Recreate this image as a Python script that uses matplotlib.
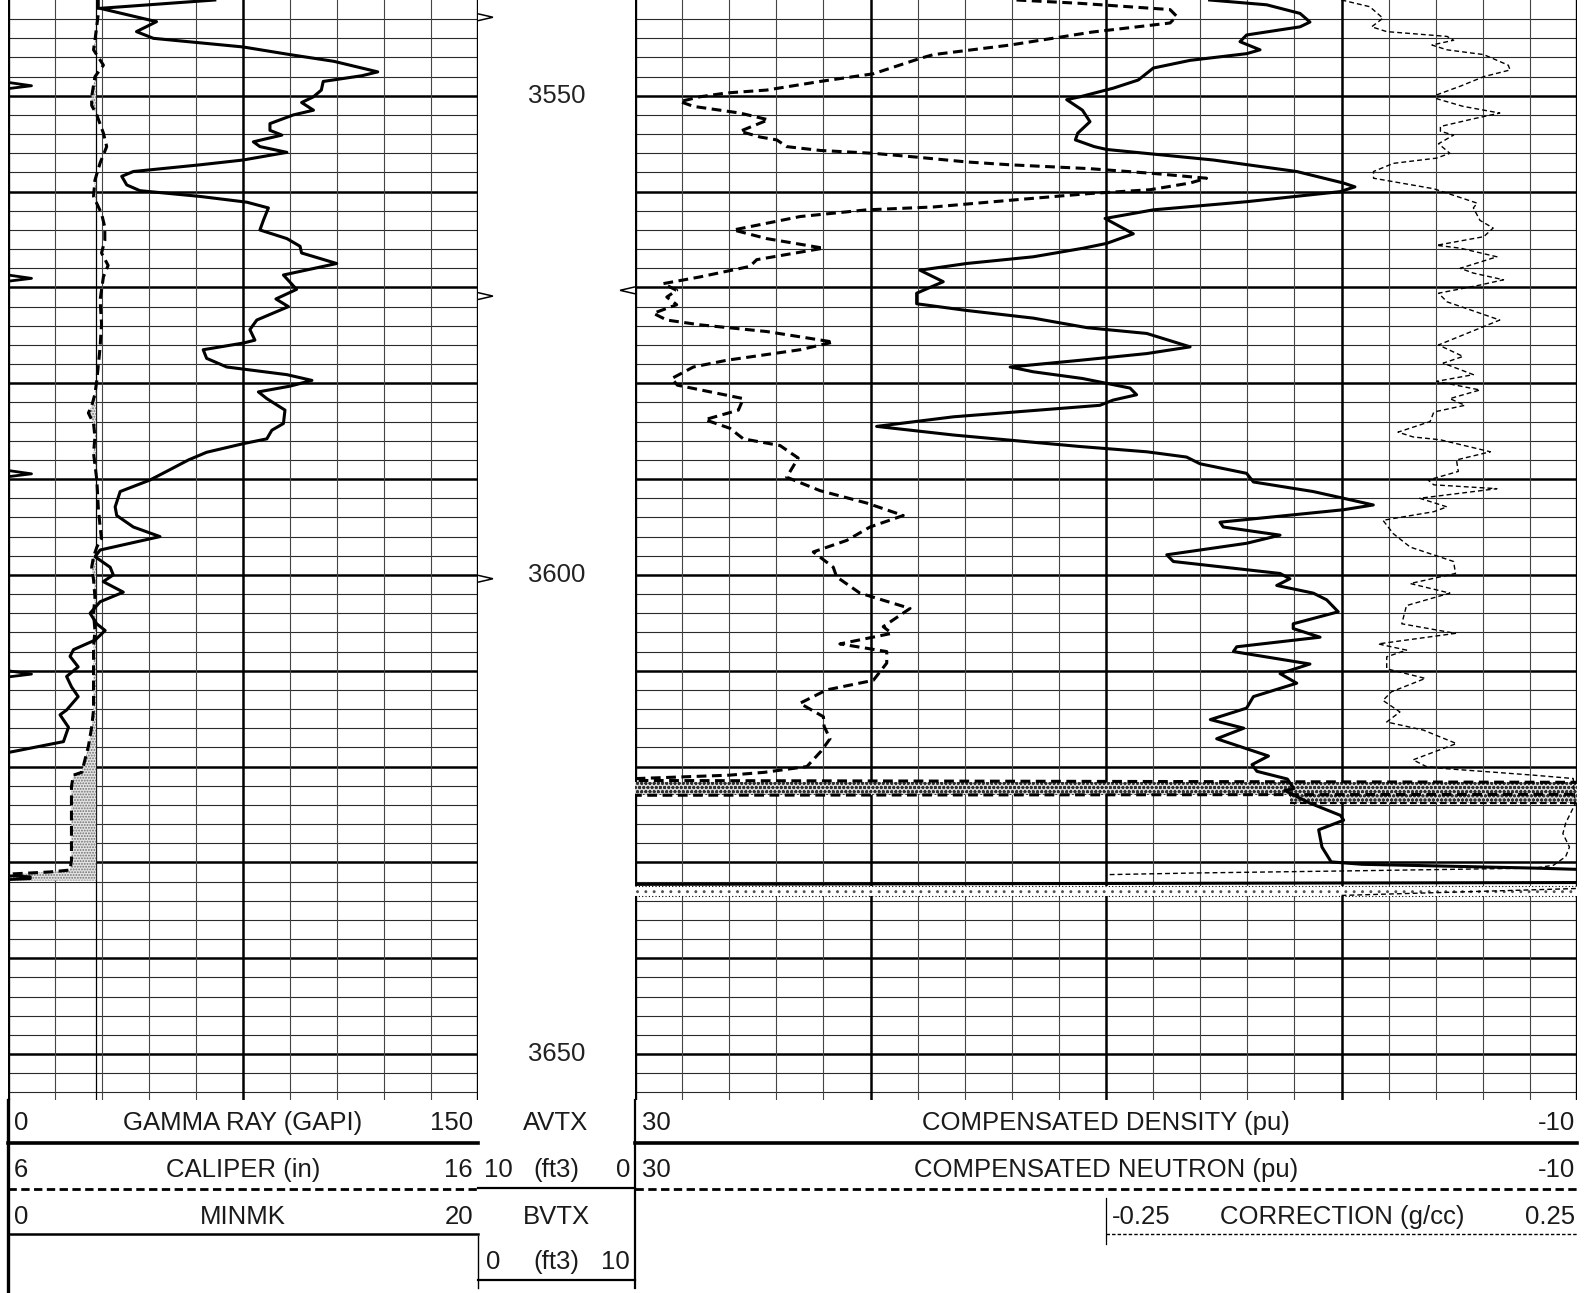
import matplotlib
matplotlib.use("Agg")
import matplotlib.pyplot as plt
import numpy as np
from matplotlib.patches import Polygon

plt.rcParams['font.family'] = ['Liberation Sans', 'DejaVu Sans']
plt.rcParams['hatch.linewidth'] = 0.9

TOP = 3540.0
BOT = 3654.8

# ---------------- data (depth in ft) ----------------
gr_depth = [3540.0, 3540.87, 3542.26, 3543.3, 3544.0, 3544.9, 3545.7, 3546.4, 3547.5, 3547.9,
            3548.5, 3549.4, 3550.1, 3550.7, 3551.5, 3552.0, 3552.9, 3553.6, 3554.1, 3554.8,
            3555.3, 3555.9, 3556.7, 3557.2, 3557.9, 3558.4, 3559.3, 3559.9, 3560.5, 3561.1,
            3561.7, 3563.0, 3564.0, 3564.9, 3565.7, 3566.4, 3567.5, 3568.7, 3570.2, 3571.2,
            3572.0, 3573.4, 3574.4, 3575.5, 3575.8, 3576.5, 3577.4, 3578.3, 3579.1, 3579.7,
            3580.3, 3580.9, 3581.6, 3582.8, 3584.2, 3584.9, 3585.8, 3586.3, 3587.2, 3588.0,
            3589.2, 3590.1, 3591.3, 3592.9, 3593.8, 3595.0, 3596.0, 3597.4, 3598.1, 3599.2,
            3600.0, 3600.7, 3601.8, 3602.8, 3604.0, 3605.1, 3605.8, 3606.8, 3607.8, 3608.5,
            3609.6, 3610.6, 3611.7, 3612.7, 3614.1, 3614.6, 3615.9, 3617.4, 3618.5, 3618.7]
gr = [66, 29.4, 47.4, 41, 46.4, 75, 90, 104, 118, 113,
      100.6, 100, 97.5, 93.7, 97.5, 91, 83.6, 83.6, 87.4, 78.3,
      80.4, 89, 75, 61.3, 40, 36.3, 37.9, 42.1, 61.3, 76.2,
      83.1, 81.5, 80.4, 89, 93.2, 93.7, 104.9, 87.9, 92.1, 85.5,
      89.5, 79.4, 77.2, 78.8, 75.1, 62.3, 63.4, 69.8, 89, 97,
      90, 79.9, 82.6, 88.4, 87.9, 84.2, 82.6, 75.1, 63.4, 57.6,
      50.6, 45.3, 35.8, 34.2, 34.7, 40, 48.5, 29.4, 27.8, 32.6,
      33.6, 30.4, 36.8, 29.4, 26.2, 28.3, 31, 27.8, 20.9, 19.8,
      22.4, 18.7, 20.3, 22.4, 18.7, 16.6, 19.3, 17.7, 0.6, -2]

cal_depth = [3540.0, 3541.5, 3544.2, 3545.2, 3546.8, 3548.0, 3550.1, 3551.0, 3552.0, 3553.9,
             3555.3, 3557.0, 3558.8, 3560.5, 3562.3, 3563.7, 3565.1, 3566.4, 3567.7, 3568.9,
             3571.3, 3573.8, 3576.2, 3579.7, 3581.1, 3582.4, 3583.1, 3584.2, 3585.6, 3587.3,
             3590.1, 3592.9, 3595.0, 3596.2, 3597.1, 3598.1, 3599.2, 3600.5, 3602.3, 3604.0,
             3605.8, 3607.5, 3611.0, 3614.1, 3615.9, 3617.9, 3620.0, 3620.6, 3620.9, 3622.1,
             3629.8, 3630.8, 3631.0, 3631.2, 3631.3, 3631.9]
caliper = [7.92, 7.92, 7.85, 7.82, 8.03, 7.85, 7.78, 7.78, 7.89, 8.03,
           8.10, 7.96, 7.85, 7.82, 7.99, 8.06, 8.06, 7.99, 8.13, 8.03,
           7.96, 7.99, 7.96, 7.89, 7.85, 7.78, 7.71, 7.82, 7.85, 7.82,
           7.89, 7.92, 7.96, 7.99, 7.89, 7.82, 7.78, 7.82, 7.85, 7.82,
           7.85, 7.82, 7.82, 7.82, 7.78, 7.71, 7.60, 7.57, 7.39, 7.35,
           7.35, 7.32, 6.89, 6.11, 6.04, 6.0]
bit_size = 7.875

minmk_depth = [3540.0, 3548.6, 3548.95, 3549.25, 3568.7, 3569.05, 3569.35, 3589.1, 3589.45, 3589.75,
               3610.0, 3610.35, 3610.65, 3631.4, 3631.5, 3631.7, 3631.8]
minmk = [0, 0, 1.0, 0, 0, 1.0, 0, 0, 1.0, 0,
         0, 1.0, 0, 0, 0.95, 0.95, 0]

neu_depth = [3540.0, 3540.35, 3541.0, 3541.7, 3542.4, 3543.35, 3544.7, 3545.7, 3546.1, 3547.7,
             3548.5, 3549.4, 3549.7, 3550.1, 3550.6, 3551.1, 3551.8, 3552.5, 3553.7, 3554.3,
             3554.6, 3555.3, 3555.7, 3556.0, 3556.4, 3556.9, 3557.2, 3557.6, 3558.1, 3558.6,
             3559.1, 3559.8, 3560.2, 3560.9, 3561.6, 3561.9, 3562.6, 3564.0, 3564.9, 3565.9,
             3567.1, 3567.8, 3568.9, 3569.6, 3570.3, 3571.0, 3571.8, 3572.7, 3573.4, 3573.9,
             3574.6, 3575.7, 3576.5, 3577.6, 3578.3, 3579.5, 3580.2, 3581.6, 3582.8, 3583.8,
             3584.7, 3585.8, 3586.5, 3587.8, 3589.8, 3591.2, 3592.5, 3593.8, 3595.0, 3596.4,
             3597.6, 3599.2, 3600.2, 3601.9, 3603.5, 3605.4, 3606.1, 3607.2, 3608.0, 3609.2,
             3611.0, 3612.0, 3613.4, 3614.8, 3615.8, 3617.1, 3618.4, 3620.0, 3620.6, 3620.9,
             3621.25, 3621.45, 3621.65, 3622.9, 3623.0]
neutron = [13.8, 11.1, 7.28, 7.0, 7.28, 10.6, 14.07, 17.33, 17.9, 19.88,
           22.14, 24.41, 26.11, 27.24, 28.09, 27.52, 25.54, 24.34, 25.54, 24.69,
           23.98, 23.56, 22.14, 19.88, 18.04, 15.92, 14.07, 10.7, 7.99, 5.73,
           6.43, 8.13, 10.7, 14.07, 17.33, 20.16, 22.99, 25.82, 24.41, 22.0,
           24.83, 25.12, 27.24, 28.8, 28.23, 28.65, 28.23, 29.22, 28.65, 27.24,
           24.41, 21.58, 22.99, 26.11, 27.52, 28.44, 28.2, 25.4, 25.61, 27.03,
           25.97, 25.4, 23.84, 23.07, 23.56, 22.15, 20.16, 18.61, 20.02, 21.01,
           22.43, 21.58, 21.44, 20.45, 18.32, 19.46, 19.1, 21.3, 19.31, 19.31,
           19.88, 21.86, 23.0, 22.0, 21.97, 21.72, 22.1, 22.7, 24.5, 26.0,
           29.9, 31.0, -10.8, -10.8, 31.0]

den_depth = [3540.0, 3540.5, 3541.4, 3542.3, 3542.8, 3543.65, 3544.35, 3545.2, 3545.6, 3546.3,
             3547.1, 3548.35, 3549.2, 3550.1, 3550.4, 3551.5, 3552.7, 3553.9, 3554.6, 3555.3,
             3555.6, 3556.7, 3557.9, 3559.1, 3559.5, 3560.0, 3561.05, 3561.9, 3562.8, 3564.4,
             3565.4, 3565.9, 3566.8, 3567.5, 3568.2, 3569.4, 3570.6, 3571.7, 3572.4, 3573.2,
             3574.2, 3574.8, 3576.2, 3576.9, 3577.6, 3578.3, 3578.8, 3579.5, 3580.5, 3581.2,
             3581.75, 3582.3, 3583.5, 3584.5, 3585.4, 3586.6, 3587.15, 3587.7, 3588.4, 3589.4,
             3590.3, 3591.3, 3592.0, 3592.7, 3593.2, 3594.5, 3595.0, 3595.85, 3596.7, 3597.9,
             3598.6, 3599.85, 3600.4, 3601.1, 3601.9, 3602.6, 3603.85, 3605.1, 3605.6, 3606.5,
             3607.5, 3608.0, 3609.3, 3610.3, 3611.3, 3612.7, 3613.9, 3615.1, 3616.0, 3617.1,
             3618.9, 3619.8, 3620.5, 3621.3, 3622.3, 3622.5, 3623.8, 3625.1, 3625.6, 3626.6,
             3628.4, 3629.95, 3630.2, 3630.6, 3630.8, 3632.1, 3632.3]
density = [5.6, 3.18, 1.76, 1.34, 1.76, 4.03, 4.31, 3.46, 4.03, 6.43,
           7.99, 8.63, 9.69, 11.1, 11.67, 11.0, 10.68, 11.2, 11.3, 10.5,
           9.97, 5.44, 1.9, -0.08, -0.57, 0.06, 4.03, 7.99, 10.04, 8.84,
           9.97, 10.96, 13.09, 15.92, 17.9, 16.91, 18.04, 18.04, 15.92, 13.09,
           10.8, 8.27, 6.43, 8.27, 11.1, 14.07, 13.09, 11.0, 8.98, 8.7,
           9.69, 10.26, 16.48, 19.74, 16.48, 11.1, 8.27, 6.58, 6.01, 4.03,
           3.74, 1.2, -0.08, -1.35, -0.08, 5.16, 5.02, 2.61, 4.03, 7.42,
           7.14, 2.61, 2.19, 2.75, 1.2, 0.63, 0.14, 2.05, 2.05, 0.91,
           4.45, 4.59, 1.34, 2.61, 1.9, 3.74, 4.03, 5.57, 4.15, 5.3,
           3.1, 3.8, 3.59, 2.3, 2.02, 2.41, 1.36, 0.04, -0.09, 0.97,
           0.83, 0.44, -0.87, -8.23, -11.0, -11.0, 31.0]

corr_depth = [3540.0, 3540.7, 3541.9, 3542.8, 3543.3, 3543.8, 3544.2, 3544.7, 3545.2, 3545.7,
              3546.8, 3547.3, 3548.0, 3549.0, 3549.9, 3550.3, 3551.1, 3551.8, 3552.4, 3553.2,
              3553.7, 3554.1, 3555.0, 3556.0, 3556.5, 3557.05, 3557.9, 3558.6, 3559.7, 3561.2,
              3561.7, 3563.0, 3563.8, 3564.7, 3565.6, 3565.9, 3566.8, 3568.0, 3568.5, 3569.2,
              3569.75, 3570.6, 3571.5, 3573.4, 3574.8, 3576.0, 3577.2, 3577.9, 3579.1, 3579.8,
              3580.7, 3581.6, 3582.3, 3583.0, 3584.0, 3585.1, 3585.6, 3585.9, 3587.15, 3588.0,
              3589.2, 3590.1, 3590.6, 3591.0, 3592.0, 3592.9, 3593.4, 3594.3, 3595.7, 3597.1,
              3598.6, 3599.85, 3600.9, 3601.9, 3603.2, 3605.1, 3606.1, 3607.2, 3607.85, 3608.55,
              3609.8, 3610.8, 3612.2, 3613.1, 3614.3, 3615.35, 3616.2, 3617.6, 3619.3, 3620.0,
              3620.2, 3620.9, 3621.25, 3623.9, 3625.9, 3627.0, 3628.4, 3629.4, 3630.3, 3630.6,
              3630.9, 3631.1, 3631.3, np.nan, 3633.45, 3632.7]
correction = [0.0, 0.030, 0.044, 0.032, 0.048, 0.112, 0.119, 0.096, 0.112, 0.151,
              0.177, 0.179, 0.151, 0.126, 0.101, 0.101, 0.129, 0.168, 0.140, 0.105,
              0.105, 0.119, 0.103, 0.115, 0.101, 0.055, 0.034, 0.034, 0.098, 0.144,
              0.140, 0.147, 0.161, 0.151, 0.101, 0.126, 0.165, 0.126, 0.140, 0.172,
              0.147, 0.103, 0.112, 0.168, 0.133, 0.103, 0.129, 0.108, 0.140, 0.101,
              0.147, 0.115, 0.131, 0.098, 0.094, 0.060, 0.076, 0.105, 0.158, 0.122,
              0.124, 0.092, 0.098, 0.165, 0.083, 0.112, 0.098, 0.044, 0.055, 0.073,
              0.119, 0.121, 0.073, 0.115, 0.069, 0.064, 0.121, 0.039, 0.069, 0.048,
              0.048, 0.089, 0.053, 0.044, 0.062, 0.048, 0.087, 0.122, 0.076, 0.090,
              0.108, 0.204, 0.246, 0.248, 0.238, 0.235, 0.242, 0.238, 0.225, 0.205,
              0.0, -0.15, -0.26, np.nan, 0.0, 0.26]

# shaded crossover bands in the porosity track
band_top = [3621.6, 3622.95, 3632.5]
band_bot = [3622.95, 3623.8, 3633.5]
band_left = [30, 2.2, 30]
band_right = [-10, -10, -10]

# integrated volume ticks
avtx_depth = [3541.8, 3570.9, 3600.4]
bvtx_depth = [3570.3]

depth_labels = [3550, 3600, 3650]

# ---------------- layout ----------------
W, H = 1588, 1293
GRID_H = 1100
fig = plt.figure(figsize=(W / 100, H / 100), dpi=100)

hd = fig.add_axes([0, 0, 1, 1])
hd.set_xlim(0, W)
hd.set_ylim(H, 0)
hd.axis('off')


def make_axes(x0, x1, xlim):
    ax = fig.add_axes([x0 / W, 1 - GRID_H / H, (x1 - x0) / W, GRID_H / H])
    ax.set_xlim(*xlim)
    ax.set_ylim(BOT, TOP)
    ax.axis('off')
    ax.patch.set_alpha(0)
    return ax


def draw_grid(ax, ndiv, major):
    for d in range(3542, 3655, 2):
        if d % 10 == 0:
            ax.axhline(d, color='k', lw=1.8, zorder=1)
        else:
            ax.axhline(d, color='#2a2a2a', lw=0.8, zorder=1)
    for i in range(1, ndiv):
        if i % major == 0:
            ax.axvline(i, color='k', lw=1.8, zorder=1)
        else:
            ax.axvline(i, color='#444', lw=0.8, zorder=1)
    ax.axvline(0, color='k', lw=2.4, zorder=3)
    ax.axvline(ndiv, color='k', lw=2.4, zorder=3)


LX0, LX1 = 8, 478
DX0, DX1 = 478, 635
RX0, RX1 = 635, 1577
CX0 = 1106

# left track
lg = make_axes(LX0, LX1, (0, 10))
draw_grid(lg, 10, 5)

cal_ax = make_axes(LX0, LX1, (6, 16))
cal_ax.axvline(bit_size, color='k', lw=0.9, zorder=2)
cal = np.array(caliper)
cal_ax.fill_betweenx(cal_depth, cal, bit_size, where=cal < bit_size, interpolate=True,
                     facecolor='#e4e4e4', edgecolor='#707070', hatch='......', lw=0, zorder=2)
cal_ax.plot(caliper, cal_depth, color='k', lw=2.2, dashes=(3.2, 1.8), zorder=4)

gr_ax = make_axes(LX0, LX1, (0, 150))
gr_ax.plot(gr, gr_depth, color='k', lw=2.2, solid_joinstyle='round', zorder=4)

mk_ax = make_axes(LX0, LX1, (0, 20))
mk_ax.plot(minmk, minmk_depth, color='k', lw=2.0, zorder=4)

# depth track
dp = make_axes(DX0, DX1, (0, 1))
for d in depth_labels:
    dp.text(0.5, d, str(d), ha='center', va='center', fontsize=18.5, color='#222')
for d in avtx_depth:
    dp.add_patch(Polygon([(0.0, d - 0.36), (0.095, d), (0.0, d + 0.36)], closed=False,
                         fill=False, ec='k', lw=1.1, zorder=3))
for d in bvtx_depth:
    dp.add_patch(Polygon([(1.0, d - 0.36), (0.905, d), (1.0, d + 0.36)], closed=False,
                         fill=False, ec='k', lw=1.1, zorder=3))

# right track
rg = make_axes(RX0, RX1, (0, 20))
draw_grid(rg, 20, 5)

por = make_axes(RX0, RX1, (30, -10))
for i in range(3):
    style = dict(facecolor='#d9d9d9', edgecolor='#303030', hatch='oooo') if i < 2 else \
        dict(facecolor='white', edgecolor='#505050', hatch='..')
    por.fill_betweenx([band_top[i], band_bot[i]], band_left[i], band_right[i], lw=0, zorder=2, **style)
por.plot([30, -10], [band_bot[2], band_bot[2]], color='k', lw=0.8, dashes=(1, 2), zorder=3)
por.plot([30, -10], [band_top[2], band_top[2]], color='k', lw=0.8, dashes=(1, 2), zorder=3)
por.plot([2.2, -10], [band_bot[1], band_bot[1]], color='k', lw=1.6, dashes=(3, 1.5), zorder=3)
por.plot(neutron, neu_depth, color='k', lw=2.2, dashes=(3.2, 1.8), zorder=4)
por.plot(density, den_depth, color='k', lw=2.2, solid_joinstyle='round', zorder=4)

cor = make_axes(CX0, RX1, (-0.25, 0.25))
cor.plot(correction, corr_depth, color='k', lw=1.0, dashes=(3.5, 2.2), zorder=4)

# ---------------- header ----------------
FS = 18.5
TC = '#1a1a1a'
ROWS = [1123, 1170, 1217, 1262]


def htext(x, y, s, ha='center'):
    hd.text(x, y, s, ha=ha, va='center', fontsize=FS, color=TC)


htext(14, ROWS[0], '0', 'left')
htext(243, ROWS[0], 'GAMMA RAY (GAPI)')
htext(473, ROWS[0], '150', 'right')
htext(14, ROWS[1], '6', 'left')
htext(243, ROWS[1], 'CALIPER (in)')
htext(473, ROWS[1], '16', 'right')
htext(14, ROWS[2], '0', 'left')
htext(243, ROWS[2], 'MINMK')
htext(473, ROWS[2], '20', 'right')

htext(556, ROWS[0], 'AVTX')
htext(484, ROWS[1], '10', 'left')
htext(556, ROWS[1], '(ft3)')
htext(630, ROWS[1], '0', 'right')
htext(556, ROWS[2], 'BVTX')
htext(486, ROWS[3], '0', 'left')
htext(556, ROWS[3], '(ft3)')
htext(630, ROWS[3], '10', 'right')

htext(642, ROWS[0], '30', 'left')
htext(1106, ROWS[0], 'COMPENSATED DENSITY (pu)')
htext(1575, ROWS[0], '-10', 'right')
htext(642, ROWS[1], '30', 'left')
htext(1106, ROWS[1], 'COMPENSATED NEUTRON (pu)')
htext(1575, ROWS[1], '-10', 'right')
htext(1112, ROWS[2], '-0.25', 'left')
htext(1342, ROWS[2], 'CORRECTION (g/cc)')
htext(1575, ROWS[2], '0.25', 'right')

# header rules
hd.plot([LX0, LX1], [1143, 1143], color='k', lw=2.6)
hd.plot([LX0, LX1], [1189, 1189], color='k', lw=2.0, dashes=(3, 1.6))
hd.plot([LX0, LX1], [1234, 1234], color='k', lw=1.8)
hd.plot([LX0, LX0], [GRID_H, H], color='k', lw=2.4)

hd.plot([DX0, DX1], [1188, 1188], color='k', lw=1.6)
hd.plot([DX0, DX1], [1280, 1280], color='k', lw=1.6)
hd.plot([DX1, DX1], [GRID_H, 1288], color='k', lw=1.6)
hd.plot([DX0, DX0], [1236, 1288], color='k', lw=1.0)

hd.plot([RX0, RX1], [1143, 1143], color='k', lw=2.6)
hd.plot([RX0, RX1], [1189, 1189], color='k', lw=2.0, dashes=(3, 1.6))
hd.plot([CX0, CX0], [1198, 1244], color='k', lw=0.9)
hd.plot([CX0, RX1], [1234, 1234], color='k', lw=1.0, dashes=(2.5, 1.5))

fig.savefig('out.png', dpi=100, facecolor='white')
